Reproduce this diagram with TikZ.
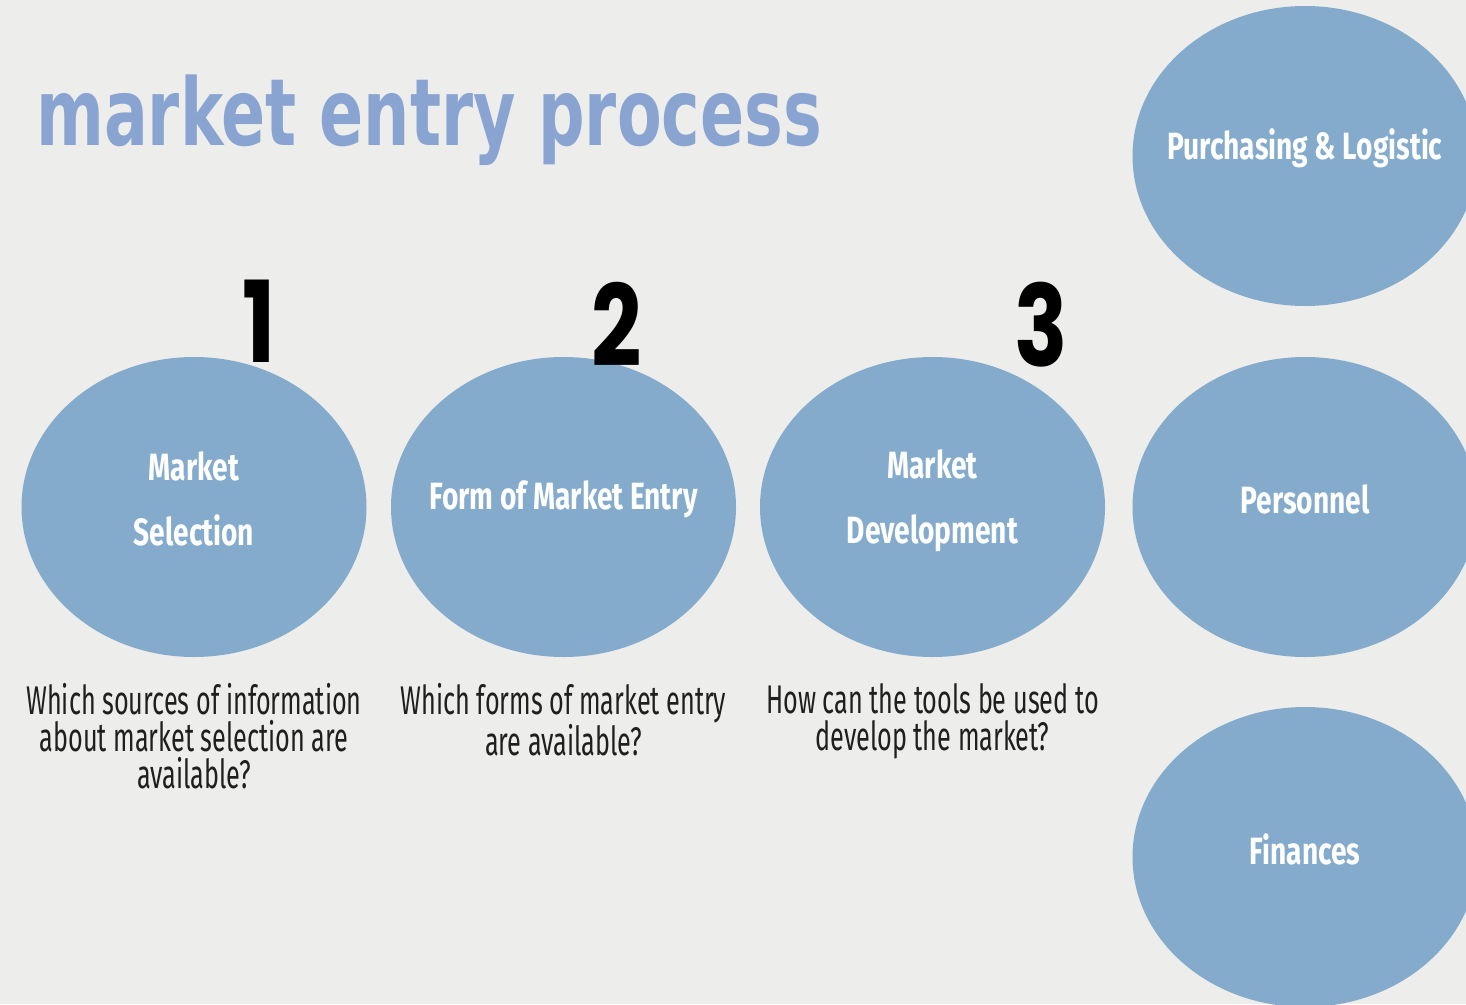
\documentclass[tikz,border=0pt]{standalone}
\usepackage{fontspec}
\usetikzlibrary{shapes.geometric,positioning}

\newfontfamily\titlefont[FakeStretch=0.70]{DejaVu Sans}
\newfontfamily\blobfont[FakeStretch=0.74]{Fira Sans}
\newfontfamily\askfont[FakeStretch=0.63]{Fira Sans}
\newfontfamily\numfont[FakeStretch=0.78]{Poppins}

\definecolor{paper}{HTML}{EDEDEB}
\definecolor{blob}{HTML}{84ABCC}
\definecolor{heading}{HTML}{8AA4D2}

\tikzset{
  stage/.style={ellipse, fill=blob, minimum width=345pt, minimum height=300pt, inner sep=0pt},
  stagetext/.style={text=white, align=center, inner sep=0pt,
    font=\blobfont\bfseries\fontsize{38}{65}\selectfont},
  question/.style={align=center, text=black!88, inner sep=0pt,
    font=\askfont\fontsize{40}{37}\selectfont},
  number/.style={anchor=base, inner sep=0pt,
    font=\numfont\bfseries\fontsize{113}{113}\selectfont},
}

\begin{document}
\begin{tikzpicture}[x=1pt,y=-1pt]
  \useasboundingbox (0,0) rectangle (1466,1004);
  \clip (0,0) rectangle (1466,1004);
  \fill[paper] (0,0) rectangle (1466,1004);

  \node[anchor=base west, inner sep=0pt, text=heading,
        font=\titlefont\bfseries\fontsize{93}{93}\selectfont] (title) at (36,145) {market entry process};

  % the three steps
  \node[stage] (sel)  at (194,507)   {};
  \node[stage] (form) at (563.5,507) {};
  \node[stage] (dev)  at (932.5,507) {};

  % supporting functions
  \node[stage] (purch) at (1305,156) {};
  \node[stage] (pers)  at (1305,507) {};
  \node[stage] (fin)   at (1305,857) {};

  \node[stagetext] (sel-t)   at ([yshift=8pt]sel.center)   {Market\\Selection};
  \node[stagetext] (form-t)  at ([yshift=8pt]form.center)  {Form of Market Entry};
  \node[stagetext] (dev-t)   at ([yshift=6pt]dev.center)   {Market\\Development};
  \node[stagetext] (purch-t) at ([yshift=8pt]purch.center) {Purchasing \& Logistic};
  \node[stagetext] (pers-t)  at ([yshift=8pt]pers.center)  {Personnel};
  \node[stagetext] (fin-t)   at ([yshift=8pt]fin.center)   {Finances};

  \node[number] (one)   at (259,362)  {1};
  \node[number] (two)   at (617,366)  {2};
  \node[number] (three) at (1041,366) {3};

  \node[question, below=26pt of sel]  (sel-q)  {Which sources of information\\about market selection are\\available?};
  \node[question, below=26pt of form] (form-q) {Which forms of market entry\\are available?};
  \node[question, below=26pt of dev]  (dev-q)  {How can the tools be used to\\develop the market?};
\end{tikzpicture}
\end{document}
